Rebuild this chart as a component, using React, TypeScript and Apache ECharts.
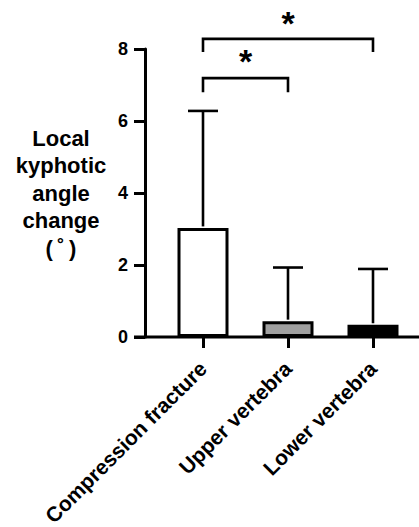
import React, { useEffect, useRef } from "react";
import * as echarts from "echarts";

const categories = ["Compression fracture", "Upper vertebra", "Lower vertebra"];
const means = [3.03, 0.44, 0.34];
const upperErrors = [6.28, 1.93, 1.89];
const barColors = ["#ffffff", "#a0a0a0", "#000000"];
const yTicks = { min: 0, max: 8, interval: 2 };
// [fromIndex, toIndex, bracketTop, legBottom, starY]
const brackets = [
  [0, 1, 7.19, 6.8, 7.66],
  [0, 2, 8.28, 7.92, 8.72],
];
const yTitle = "Local\nkyphotic\nangle\nchange\n(\u2009˚\u2009)";

const FONT = "'Liberation Sans', Arial, Helvetica, sans-serif";

export default function App() {
  const ref = useRef<HTMLDivElement>(null);
  useEffect(() => {
    if (!ref.current) return;
    const chart = echarts.init(ref.current, undefined, { renderer: "svg" });
    const option: any = {
      animation: false,
      backgroundColor: "#ffffff",
      grid: { left: 160.5, right: 3.5, top: 49, bottom: 190, outerBoundsMode: "none", containLabel: false },
      xAxis: {
        type: "category",
        data: categories,
        axisLine: { show: false },
        axisTick: {
          show: true,
          alignWithLabel: true,
          length: 11,
          lineStyle: { color: "#000", width: 3 },
        },
        axisLabel: {
          rotate: 45,
          interval: 0,
          color: "#000",
          fontSize: 21,
          fontWeight: "bold",
          fontFamily: FONT,
          margin: 28,
        },
      },
      yAxis: {
        type: "value",
        min: yTicks.min,
        max: yTicks.max,
        interval: yTicks.interval,
        offset: 15.5,
        axisLine: { show: true, lineStyle: { color: "#000", width: 3 } },
        axisTick: { show: true, length: 11, lineStyle: { color: "#000", width: 3 } },
        splitLine: { show: false },
        axisLabel: {
          color: "#000",
          fontSize: 18,
          fontWeight: "bold",
          fontFamily: FONT,
          margin: 17,
        },
      },
      graphic: [
        {
          type: "line",
          shape: { x1: 134, y1: 337, x2: 419, y2: 337 },
          style: { stroke: "#000", lineWidth: 3 },
          z: 10,
        },
        {
          type: "text",
          x: 61,
          y: 193,
          style: {
            text: yTitle,
            fill: "#000",
            font: `bold 22px ${FONT}`,
            textAlign: "center",
            textVerticalAlign: "middle",
            lineHeight: 27.5,
          },
        },
      ],
      series: [
        {
          type: "bar",
          data: means.map((v, i) => ({
            value: v,
            itemStyle: { color: barColors[i], borderColor: "#000", borderWidth: 3 },
          })),
          barWidth: 51,
          z: 2,
        },
        {
          type: "custom",
          data: means.map((m, i) => [i, m, upperErrors[i]]),
          encode: { x: 0, y: [1, 2] },
          z: 3,
          clip: false,
          renderItem: (params: any, api: any) => {
            const x = api.value(0);
            const p0 = api.coord([x, api.value(1)]);
            const p1 = api.coord([x, api.value(2)]);
            const half = 15;
            const st = { stroke: "#000", lineWidth: 2.6 };
            return {
              type: "group",
              children: [
                { type: "line", shape: { x1: p0[0], y1: p0[1] - 1.5, x2: p1[0], y2: p1[1] }, style: st },
                { type: "line", shape: { x1: p1[0] - half, y1: p1[1], x2: p1[0] + half, y2: p1[1] }, style: st },
              ],
            };
          },
        },
        {
          type: "custom",
          data: brackets,
          encode: { x: [0, 1], y: [2, 3, 4] },
          z: 4,
          clip: false,
          renderItem: (params: any, api: any) => {
            const a = api.value(0);
            const b = api.value(1);
            const top = api.value(2);
            const leg = api.value(3);
            const starY = api.value(4);
            const pa0 = api.coord([a, leg]);
            const pa1 = api.coord([a, top]);
            const pb1 = api.coord([b, top]);
            const pb0 = api.coord([b, leg]);
            const ps = api.coord([a, starY]);
            const mx = (pa1[0] + pb1[0]) / 2;
            return {
              type: "group",
              children: [
                {
                  type: "polyline",
                  shape: { points: [pa0, pa1, pb1, pb0] },
                  style: { stroke: "#000", lineWidth: 2.6, fill: null },
                },
                {
                  type: "text",
                  x: mx,
                  y: ps[1],
                  style: {
                    text: "*",
                    fill: "#000",
                    font: `bold 34px ${FONT}`,
                    textAlign: "center",
                    textVerticalAlign: "middle",
                  },
                },
              ],
            };
          },
        },
      ],
    };
    chart.setOption(option);
    return () => chart.dispose();
  }, []);
  return (
    <div
      ref={ref}
      style={{ position: "fixed", left: 0, top: 0, width: 419, height: 527, background: "#fff" }}
    />
  );
}
